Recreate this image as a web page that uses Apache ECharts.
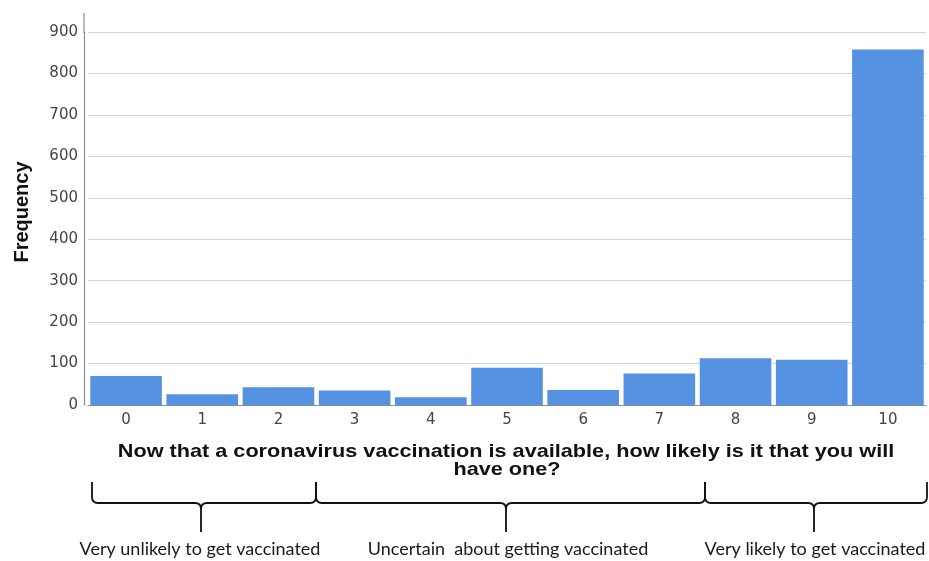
<!DOCTYPE html>
<html>
<head>
<meta charset="utf-8">
<script src="https://cdn.jsdelivr.net/npm/echarts@6/dist/echarts.min.js"></script>
<style>
html,body{margin:0;padding:0;background:#fff;}
#chart{width:929px;height:561px;}
</style>
</head>
<body>
<div id="chart"></div>
<script>
const categories = ['0', '1', '2', '3', '4', '5', '6', '7', '8', '9', '10'];
const frequency = [70, 26, 43, 35, 19, 90, 36, 76, 113, 109, 858];
const yAxisTitle = 'Frequency';
const xAxisTitleLines = [
  'Now that a coronavirus vaccination is available, how likely is it that you will',
  'have one?'
];
const groupLabels = [
  'Very unlikely to get vaccinated',
  'Uncertain  about getting vaccinated',
  'Very likely to get vaccinated'
];

const braces = [[92, 201, 316], [316, 506, 705], [705, 814, 927]];
const labelCenters = [200, 508, 815];

const braceStyle = { stroke: '#111', lineWidth: 1.8, fill: null };
function seg(x1, y1, x2, y2) {
  return { type: 'line', shape: { x1: x1, y1: y1, x2: x2, y2: y2 }, style: braceStyle };
}
function curve(x1, y1, cx, cy, x2, y2) {
  return { type: 'bezierCurve', shape: { x1: x1, y1: y1, x2: x2, y2: y2, cpx1: cx, cpy1: cy }, style: braceStyle };
}
function braceParts(x1, xm, x2, yt, yh, yb, r) {
  return [
    seg(x1, yt, x1, yh - r),
    curve(x1, yh - r, x1, yh, x1 + r, yh),
    seg(x1 + r, yh, xm - r, yh),
    curve(xm - r, yh, xm, yh, xm, yh + r),
    seg(xm, yh + r, xm, yb),
    curve(xm, yh + r, xm, yh, xm + r, yh),
    seg(xm + r, yh, x2 - r, yh),
    curve(x2 - r, yh, x2, yh, x2, yh - r),
    seg(x2, yh - r, x2, yt)
  ];
}

const chart = echarts.init(document.getElementById('chart'));
const graphics = [
  { type: 'line', shape: { x1: 84, y1: 13, x2: 84, y2: 33 }, style: { stroke: '#8c8c8c', lineWidth: 1.2 } },
  { type: 'text', x: 22, y: 212, rotation: Math.PI / 2,
    style: { text: yAxisTitle, font: 'bold 20px "Liberation Sans", Arial, sans-serif', fill: '#111', align: 'center', verticalAlign: 'middle' } },
  { type: 'text', x: 506, y: 452, scaleX: 1.14,
    style: { text: xAxisTitleLines[0], font: 'bold 19px "Liberation Sans", Arial, sans-serif', fill: '#111', align: 'center', verticalAlign: 'middle' } },
  { type: 'text', x: 507, y: 470, scaleX: 1.14,
    style: { text: xAxisTitleLines[1], font: 'bold 19px "Liberation Sans", Arial, sans-serif', fill: '#111', align: 'center', verticalAlign: 'middle' } }
];
braces.forEach(function (b) {
  braceParts(b[0], b[1], b[2], 482, 503, 532, 6).forEach(function (p) { graphics.push(p); });
});
groupLabels.forEach(function (t, i) {
  graphics.push({ type: 'text', x: labelCenters[i], y: 549,
    style: { text: t, font: '18px Lato, "Open Sans", sans-serif', fill: '#1a1a1a', align: 'center', verticalAlign: 'middle' } });
});

chart.setOption({
  animation: false,
  backgroundColor: '#ffffff',
  grid: { left: 88, right: 3, top: 32, bottom: 156 },
  xAxis: {
    type: 'category',
    data: categories,
    axisLine: { show: true, lineStyle: { color: '#8c8c8c', width: 1.2 } },
    axisTick: { show: false },
    axisLabel: { color: '#444', fontSize: 15, fontFamily: '"DejaVu Sans", sans-serif', margin: 8 }
  },
  yAxis: {
    type: 'value',
    min: 0, max: 900, interval: 100,
    offset: 4,
    axisLine: { show: true, lineStyle: { color: '#8c8c8c', width: 1.2 } },
    axisTick: { show: false },
    axisLabel: { color: '#444', fontSize: 15, fontFamily: '"DejaVu Sans", sans-serif', margin: 6 },
    splitLine: { show: true, lineStyle: { color: '#d4d4d4', width: 1.2 } }
  },
  series: [{
    type: 'bar',
    data: frequency,
    barCategoryGap: '6%',
    itemStyle: { color: '#5592E1' }
  }],
  graphic: graphics
});
</script>
</body>
</html>
